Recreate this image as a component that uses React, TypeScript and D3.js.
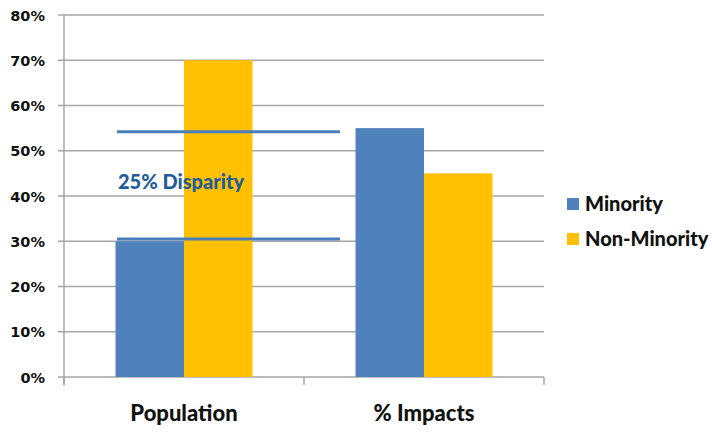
import React from "react";
import * as d3 from "d3";

const categories = ["Population", "% Impacts"];
const seriesNames = ["Minority", "Non-Minority"];
const minority = [30, 55];
const nonMinority = [70, 45];
const yTicks = [0, 10, 20, 30, 40, 50, 60, 70, 80];
const disparityLevels = [54.2, 30.5];
const disparityLabel = "25% Disparity";

const colors = ["#4F81BD", "#FFC000"];
const FONT = "Lato, 'Open Sans', sans-serif";
const TICKFONT = "'DejaVu Sans', sans-serif";

export default function App() {
  const W = 712, H = 436;
  const left = 64, right = 544, top = 15, bottom = 377;
  const x = d3.scaleBand<string>().domain(categories).range([left, right]).paddingInner(0).paddingOuter(0);
  const y = d3.scaleLinear().domain([0, 80]).range([bottom, top]);
  const inner = d3.scaleBand<string>().domain(seriesNames).range([0, x.bandwidth()]).paddingInner(0).paddingOuter(0.752);
  const series = [minority, nonMinority];

  return (
    <svg width={W} height={H} style={{ position: "absolute", left: 0, top: 0, background: "#fff" }}>
      {yTicks.map((t) => (
        <g key={t}>
          <line x1={58} x2={right} y1={y(t)} y2={y(t)} stroke="#A6A6A6" strokeWidth={1.5} />
          <text x={45} y={y(t) + 5.5} textAnchor="end" fontFamily={TICKFONT} fontWeight="bold" fontSize={14.5} fill="#111">
            {t}%
          </text>
        </g>
      ))}
      <line x1={left} x2={left} y1={top} y2={bottom + 8} stroke="#A6A6A6" strokeWidth={1.5} />
      {[left, left + x.bandwidth(), right].map((xx, i) => (
        <line key={i} x1={xx} x2={xx} y1={bottom} y2={bottom + 8} stroke="#A6A6A6" strokeWidth={1.5} />
      ))}
      {categories.map((c, ci) =>
        seriesNames.map((s, si) => {
          const v = series[si][ci];
          return (
            <rect
              key={c + s}
              x={(x(c) as number) + (inner(s) as number)}
              width={inner.bandwidth()}
              y={y(v)}
              height={bottom - y(v)}
              fill={colors[si]}
            />
          );
        })
      )}
      {disparityLevels.map((v, i) => (
        <line key={i} x1={117} x2={340} y1={y(v)} y2={y(v)} stroke="#4A7EBB" strokeWidth={3} />
      ))}
      <text x={118} y={189} fontFamily={FONT} fontWeight={900} fontSize={20} fill="#1F5C99">
        {disparityLabel}
      </text>
      {categories.map((c) => (
        <text
          key={c}
          x={(x(c) as number) + x.bandwidth() / 2}
          y={421}
          textAnchor="middle"
          fontFamily={FONT}
          fontWeight={900}
          fontSize={22}
          fill="#111"
        >
          {c}
        </text>
      ))}
      {seriesNames.map((s, i) => (
        <g key={s}>
          <rect x={567} y={198 + i * 35} width={12} height={12} fill={colors[i]} />
          <text x={585} y={211 + i * 35} fontFamily={FONT} fontWeight={900} fontSize={20} fill="#111">
            {s}
          </text>
        </g>
      ))}
    </svg>
  );
}
